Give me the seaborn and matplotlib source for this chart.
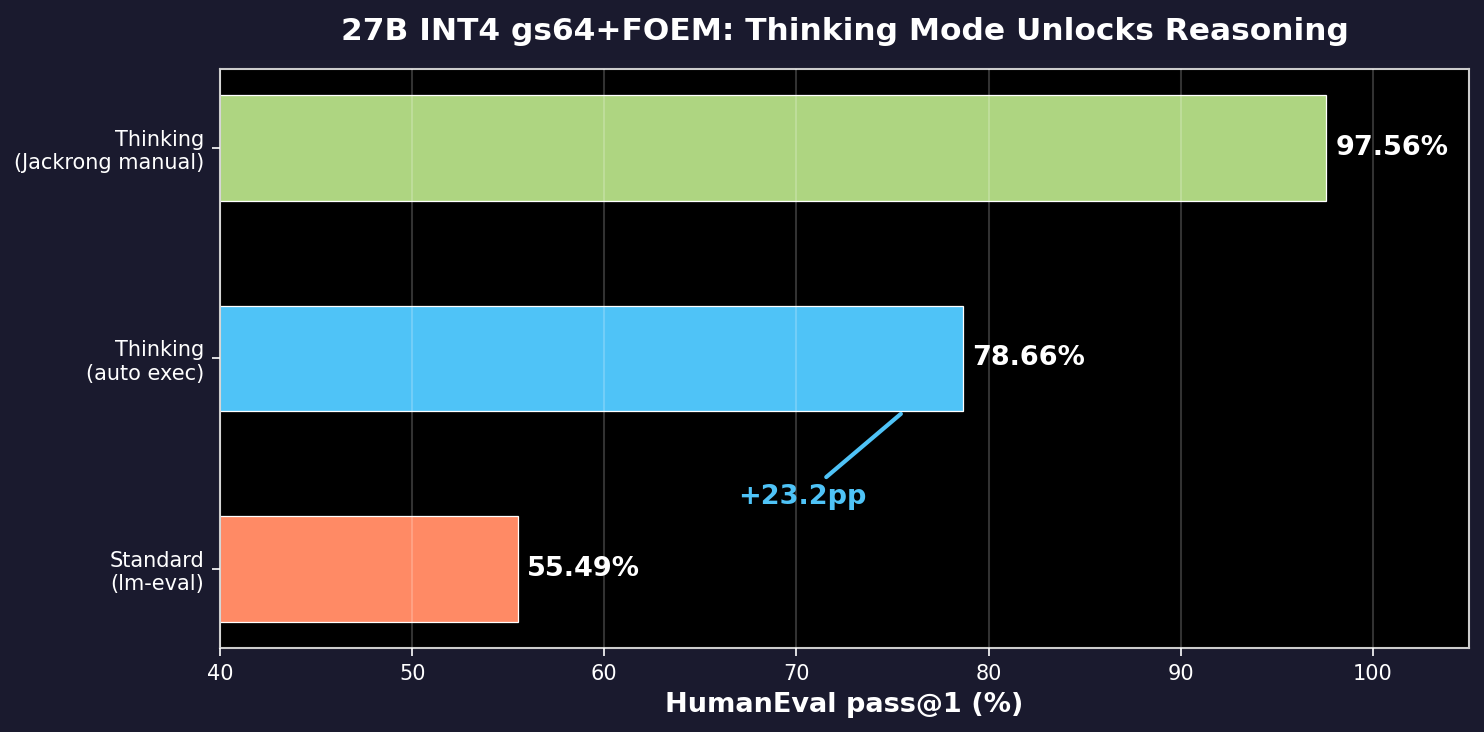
import matplotlib
matplotlib.use("Agg")
import matplotlib.pyplot as plt
import seaborn as sns
import pandas as pd

# Daten
modes = ["Standard\n(lm-eval)", "Thinking\n(auto exec)", "Thinking\n(Jackrong manual)"]
scores = [55.49, 78.66, 97.56]
colors = ["#ff8a65", "#4fc3f7", "#aed581"]

df = pd.DataFrame({"mode": modes, "score": scores})

sns.set_style("dark")
plt.rcParams["font.family"] = ["DejaVu Sans"]

fig, ax = plt.subplots(figsize=(1484 / 150, 732 / 150), dpi=150)
fig.patch.set_facecolor("#1a1a2e")
ax.set_facecolor("black")

# oben: Jackrong, unten: Standard
order = modes[::-1]
sns.barplot(data=df, y="mode", x="score", hue="mode", order=order,
            hue_order=modes, palette=colors, orient="h", width=0.5,
            saturation=1, edgecolor="white", linewidth=0.6, legend=False, ax=ax)
ax.set_ylim(2.375, -0.375)
ax.set_xlim(40, 105)

for m, s in zip(modes, scores):
    y = order.index(m)
    ax.text(s + 0.5, y, f"{s:.2f}%", va="center", ha="left",
            color="white", fontsize=13, fontweight="bold")

gain = scores[1] - scores[0]
y_auto = order.index(modes[1])
ax.annotate(f"+{gain:.1f}pp", xy=(75.6, y_auto + 0.25), xytext=(70.3, y_auto + 0.66),
            ha="center", va="center", color="#4fc3f7", fontsize=13,
            fontweight="bold",
            arrowprops=dict(arrowstyle="-", color="#4fc3f7", lw=2))

# Gitter liegt über den Balken
ax.grid(axis="x", color="white", alpha=0.2, linewidth=1)
ax.grid(axis="y", visible=False)
ax.set_axisbelow(False)
for p in ax.patches:
    p.set_zorder(1)

ax.set_title("27B INT4 gs64+FOEM: Thinking Mode Unlocks Reasoning",
             color="white", fontsize=15, fontweight="bold", pad=14)
ax.set_xlabel("HumanEval pass@1 (%)", color="white", fontsize=13, fontweight="bold")
ax.set_ylabel("")
ax.tick_params(colors="white", labelsize=10, left=True, bottom=True, length=4)
for sp in ax.spines.values():
    sp.set_color("#cccccc")
    sp.set_linewidth(1)

fig.subplots_adjust(left=220 / 1484, right=1469 / 1484, top=1 - 69 / 732, bottom=1 - 648 / 732)
fig.savefig("out.png", dpi=150, facecolor=fig.get_facecolor())
